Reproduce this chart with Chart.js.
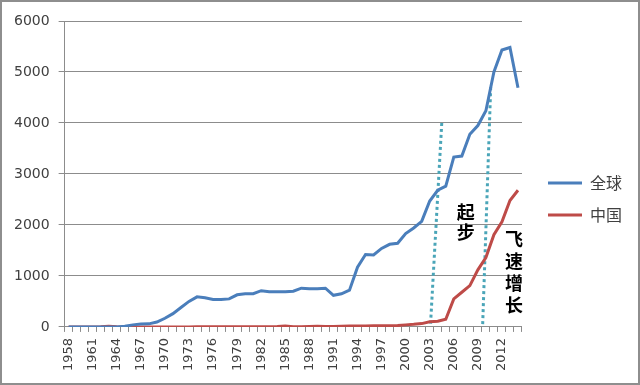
<!DOCTYPE html>
<html>
<head>
<meta charset="utf-8">
<script src="https://cdn.jsdelivr.net/npm/chart.js@4/dist/chart.umd.min.js"></script>
<style>
  html, body { margin: 0; padding: 0; background: #fff; }
  #wrap { position: relative; width: 640px; height: 385px; }
  #frame { position: absolute; inset: 0; border: 2px solid #8e8e8e; box-sizing: border-box; pointer-events: none; }
</style>
</head>
<body>
<div id="wrap">
  <canvas id="c" width="640" height="385"></canvas>
  <div id="frame"></div>
</div>
<script>
// Data
const years = [];
for (let y = 1958; y <= 2014; y++) years.push(String(y));

const globalVals = [0, 0, 0, 0, 0, 0, 0, 15, 40, 55, 60, 95, 170, 260, 380, 500, 590, 570, 540, 540,
  550, 630, 650, 650, 710, 690, 690, 690, 700, 760, 750, 750, 760, 620, 650, 720, 1170, 1420, 1410,
  1540, 1620, 1640, 1830, 1940, 2070, 2470, 2680, 2760, 3330, 3350, 3780, 3950, 4240, 5000, 5430, 5480, 4690];

const chinaVals = [0, 0, 0, 0, 5, 15, 5, 0, 0, 0, 0, 0, 0, 0, 0, 0, 5, 5, 5, 5,
  5, 5, 5, 5, 5, 5, 10, 20, 5, 5, 10, 15, 10, 10, 15, 20, 20, 20, 25,
  25, 25, 30, 40, 50, 65, 100, 110, 150, 550, 680, 810, 1120, 1360, 1810, 2060, 2480, 2680];

const yTicks = [0, 1000, 2000, 3000, 4000, 5000, 6000];

// dotted guide lines (year, value)
const guide1 = [{ x: 2004.5, y: 4000 }, { x: 2003.1, y: 50 }];
const guide2 = [{ x: 2010.6, y: 4700 }, { x: 2009.6, y: 50 }];

// vertical annotations
const annoText = ['起步', '飞速增长'];
const annoYear = [2007.5, 2013.5];
const annoVal = [2250, 1720];

const C = { blue: '#4a7ebb', red: '#be4b48', teal: '#4aa5b8', grid: '#8c8c8c', text: '#404040' };

const vertText = {
  id: 'vertText',
  afterDatasetsDraw(chart) {
    const ctx = chart.ctx, xs = chart.scales.xl, ys = chart.scales.y;
    ctx.save();
    ctx.fillStyle = '#000';
    ctx.font = 'bold 18px "Noto Sans CJK SC"';
    ctx.textAlign = 'center';
    ctx.textBaseline = 'middle';
    annoText.forEach((t, i) => {
      const x = xs.getPixelForValue(annoYear[i]);
      const y0 = ys.getPixelForValue(annoVal[i]);
      const step = i === 0 ? 20 : 22;
      [...t].forEach((ch, k) => ctx.fillText(ch, x, y0 + k * step));
    });
    ctx.restore();
  }
};

const guideDs = data => ({
  data, xAxisID: 'xl', borderColor: C.teal, borderWidth: 3, borderDash: [3, 3],
  pointRadius: 0, fill: false, order: 3
});

new Chart(document.getElementById('c'), {
  type: 'line',
  data: {
    labels: years,
    datasets: [
      { label: '全球', data: globalVals, borderColor: C.blue, backgroundColor: C.blue, borderWidth: 3, pointRadius: 0, order: 1 },
      { label: '中国', data: chinaVals, borderColor: C.red, backgroundColor: C.red, borderWidth: 3, pointRadius: 0, order: 2 },
      guideDs(guide1),
      guideDs(guide2)
    ]
  },
  options: {
    responsive: false,
    animation: false,
    layout: { padding: { top: 21, left: 5, right: 8, bottom: 8 } },
    plugins: {
      tooltip: { enabled: false },
      legend: {
        position: 'right',
        labels: {
          boxWidth: 34, boxHeight: 3, padding: 16,
          color: C.text,
          font: { family: '"Noto Sans CJK SC"', size: 16 },
          generateLabels: chart => chart.data.datasets
            .map((ds, i) => ({ text: ds.label, fillStyle: ds.borderColor, strokeStyle: ds.borderColor, lineWidth: 0, datasetIndex: i, fontColor: C.text }))
            .filter(item => !!item.text)
        }
      }
    },
    scales: {
      x: {
        type: 'category',
        offset: true,
        grid: { display: true, offset: true, drawOnChartArea: false, tickLength: 5, color: C.grid },
        border: { color: C.grid },
        ticks: {
          autoSkip: false, maxRotation: 90, minRotation: 90, padding: 6,
          color: C.text, font: { family: '"DejaVu Sans"', size: 13 },
          callback(v, i) { return i % 3 === 0 ? this.getLabelForValue(v) : ''; }
        }
      },
      xl: { type: 'linear', display: false, min: 1957.5, max: 2014.5 },
      y: {
        min: 0, max: 6000,
        afterBuildTicks: s => { s.ticks = yTicks.map(v => ({ value: v })); },
        grid: { color: C.grid, tickLength: 6 },
        border: { color: C.grid },
        ticks: { padding: 9, color: C.text, font: { family: '"DejaVu Sans"', size: 14 }, callback: v => String(v) }
      },
      yr: {
        position: 'right',
        grid: { display: false },
        border: { display: false },
        ticks: { display: false },
        afterFit: s => { s.width = 10; }
      }
    }
  },
  plugins: [vertText]
});
</script>
</body>
</html>
